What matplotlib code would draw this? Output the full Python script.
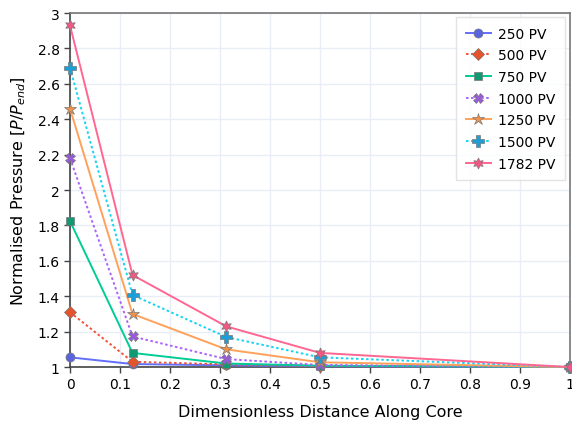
import matplotlib
matplotlib.use('Agg')
from matplotlib import pyplot as plt

plt.rcParams['font.family'] = ['DejaVu Sans']
plt.rcParams['mathtext.fontset'] = 'dejavusans'

# distance along core (dimensionless)
distance = [0, 0.125, 0.3125, 0.5, 1.0]

labels = ['250 PV', '500 PV', '750 PV', '1000 PV', '1250 PV', '1500 PV', '1782 PV']
p_250 = [1.055, 1.017, 1.010, 1.005, 1.0]
p_500 = [1.31, 1.030, 1.015, 1.006, 1.0]
p_750 = [1.825, 1.080, 1.020, 1.008, 1.0]
p_1000 = [2.18, 1.173, 1.045, 1.012, 1.0]
p_1250 = [2.46, 1.30, 1.10, 1.027, 1.0]
p_1500 = [2.69, 1.407, 1.17, 1.055, 1.0]
p_1782 = [2.93, 1.52, 1.23, 1.08, 1.0]

series = [p_250, p_500, p_750, p_1000, p_1250, p_1500, p_1782]
colors = ['#636efa', '#ef553b', '#00cc96', '#ab63fa', '#ffa15a', '#19d3f3', '#ff6692']
marker_colors = ['#5a64e0', '#e5532b', '#109a72', '#9a58e0', '#f0924a', '#1a9fd8', '#ef5a85']
dotted = [False, True, False, True, False, True, False]
markers = ['o', 'D', 's', 'X', '*', 'P', (6, 1, 0)]
sizes = [6.5, 6, 6, 7, 9, 8, 8]

fig = plt.figure(figsize=(5.72, 4.27), dpi=100)
ax = fig.add_axes([0.1224, 0.138, 0.8741, 0.829])

for y, lab, c, mc, dt, m, ms in zip(series, labels, colors, marker_colors, dotted, markers, sizes):
    line, = ax.plot(distance, y, color=c, linewidth=1.4, marker=m, markersize=ms,
                    markerfacecolor=mc, markeredgecolor='#777777', markeredgewidth=0.5,
                    label=lab, clip_on=False, zorder=3)
    if dt:
        line.set_dashes((1.3, 1.3))

ax.set_xlim(0, 1)
ax.set_ylim(1, 3)
ax.set_xticks([0, 0.1, 0.2, 0.3, 0.4, 0.5, 0.6, 0.7, 0.8, 0.9, 1])
ax.set_xticklabels(['0', '0.1', '0.2', '0.3', '0.4', '0.5', '0.6', '0.7', '0.8', '0.9', '1'])
ax.set_yticks([1, 1.2, 1.4, 1.6, 1.8, 2, 2.2, 2.4, 2.6, 2.8, 3])
ax.set_yticklabels(['1', '1.2', '1.4', '1.6', '1.8', '2', '2.2', '2.4', '2.6', '2.8', '3'])
ax.grid(True, color='#e8edf6', linewidth=1)
ax.set_axisbelow(True)
ax.tick_params(direction='out', length=4.5, width=1, color='#444444', labelsize=10, pad=3)

for s in ax.spines.values():
    s.set_color('#444444')
    s.set_linewidth(1.2)
ax.spines['top'].set_color('#777777')
ax.spines['right'].set_color('#777777')

ax.set_xlabel('Dimensionless Distance Along Core', fontsize=11.5, labelpad=9)
ax.set_ylabel('Normalised Pressure [$P/P_{end}$]', fontsize=11.5, labelpad=7)

leg = ax.legend(loc='upper right', bbox_to_anchor=(0.99, 0.989), borderaxespad=0,
                fontsize=10, frameon=True, fancybox=False, handlelength=1.8,
                labelspacing=0.55, borderpad=0.7, handletextpad=0.5)
leg.get_frame().set_edgecolor('#dddddd')
leg.get_frame().set_linewidth(1)

plt.savefig('out.png', dpi=100)
